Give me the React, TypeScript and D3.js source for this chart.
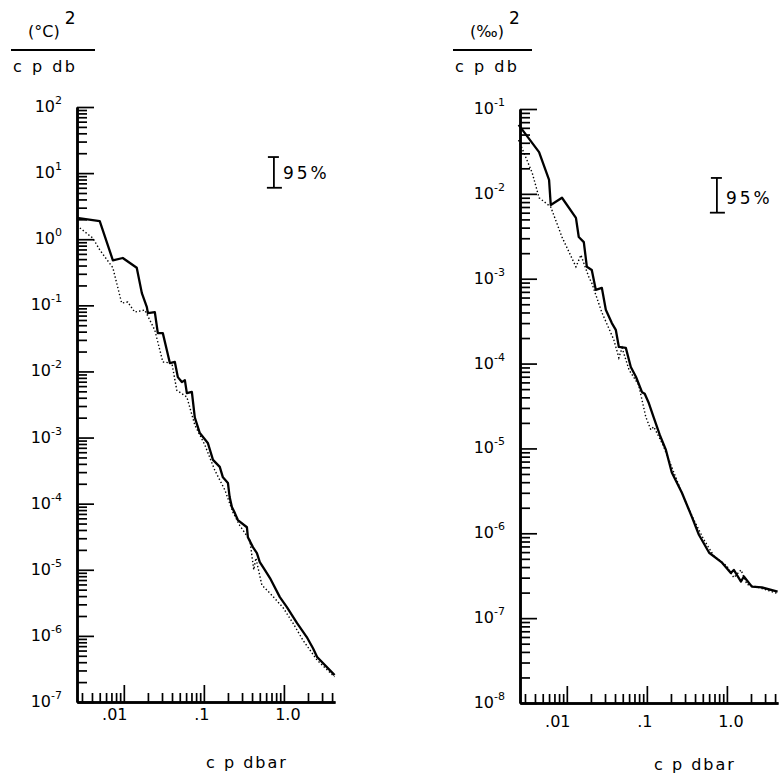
import React, { useEffect, useRef } from "react";
import * as d3 from "d3";

// vertical wavenumber spectra, [cycles per dbar, spectral density]
// temperature gradient, (°C)^2 / cpdb
const tempSolid: [number, number][] = [
  [0.0026, 2.1], [0.005, 1.88], [0.0073, 0.48], [0.0097, 0.52], [0.0145, 0.37],
  [0.0168, 0.153], [0.0194, 0.094], [0.02, 0.076], [0.0244, 0.079], [0.0266, 0.038],
  [0.0307, 0.038], [0.0345, 0.021], [0.0376, 0.0134], [0.0434, 0.0139], [0.0473, 0.0082],
  [0.0531, 0.0069], [0.0579, 0.0074], [0.0613, 0.0047], [0.0708, 0.0049], [0.0771, 0.002],
  [0.089, 0.00117], [0.112, 0.00083], [0.13, 0.00046], [0.158, 0.00036], [0.173, 0.00025],
  [0.2, 0.000205], [0.21, 0.000126], [0.224, 0.000089], [0.244, 0.000072], [0.266, 0.0000565],
  [0.345, 0.000044], [0.355, 0.000031], [0.41, 0.000022], [0.46, 0.0000179], [0.5, 0.0000131],
  [0.58, 0.0000099], [0.67, 0.0000075], [0.89, 0.00000386], [1.09, 0.00000273], [1.46, 0.00000156],
  [1.93, 0.00000096], [2.31, 0.00000065], [2.6, 0.00000048], [4.3, 0.000000255],
];
const tempDotted: [number, number][] = [
  [0.0026, 1.6], [0.0041, 1.04], [0.005, 0.69], [0.0073, 0.37], [0.0094, 0.108],
  [0.0112, 0.112], [0.0137, 0.079], [0.0183, 0.085], [0.0244, 0.042], [0.0307, 0.0139],
  [0.0398, 0.0134], [0.0459, 0.0052], [0.0613, 0.0041], [0.0771, 0.00155], [0.103, 0.00077],
  [0.137, 0.00032], [0.183, 0.000161], [0.23, 0.000075], [0.28, 0.000047], [0.376, 0.000028],
  [0.42, 0.00001], [0.447, 0.000015], [0.53, 0.0000059], [0.71, 0.0000041], [0.97, 0.0000027],
  [1.3, 0.00000156], [1.73, 0.00000086], [2.6, 0.00000043], [4.3, 0.00000024],
];
// salinity gradient, (‰)^2 / cpdb
const salSolid: [number, number][] = [
  [0.0025, 0.065], [0.0045, 0.031], [0.006, 0.0146], [0.0063, 0.0074], [0.0087, 0.009],
  [0.013, 0.0052], [0.0141, 0.0031], [0.0163, 0.0027], [0.0178, 0.00138], [0.0205, 0.00127],
  [0.023, 0.00074], [0.0274, 0.00078], [0.0307, 0.00043], [0.0365, 0.0003], [0.0409, 0.00025],
  [0.0447, 0.000157], [0.0546, 0.000153], [0.063, 0.000091], [0.073, 0.00007], [0.087, 0.000046],
  [0.094, 0.000044], [0.106, 0.000034], [0.122, 0.000023], [0.145, 0.0000144], [0.173, 0.0000096],
  [0.205, 0.0000052], [0.274, 0.000003], [0.365, 0.00000156], [0.447, 0.00000096], [0.6, 0.00000059],
  [0.87, 0.00000045], [1.12, 0.00000034], [1.22, 0.00000037], [1.5, 0.00000027], [1.63, 0.00000031],
  [2.05, 0.000000235], [2.74, 0.00000023], [4.3, 0.000000205],
];
const salDotted: [number, number][] = [
  [0.0025, 0.043], [0.0037, 0.0176], [0.0045, 0.009], [0.0063, 0.007], [0.0087, 0.0031],
  [0.013, 0.00138], [0.015, 0.0019], [0.0188, 0.00105], [0.0205, 0.00089], [0.0274, 0.0004],
  [0.0335, 0.00026], [0.0387, 0.00019], [0.0447, 0.000117], [0.049, 0.000153], [0.06, 0.000084],
  [0.079, 0.000056], [0.097, 0.0000235], [0.112, 0.0000166], [0.122, 0.000018], [0.159, 0.000011],
  [0.223, 0.0000049], [0.29, 0.0000026], [0.386, 0.00000144], [0.516, 0.00000084], [0.687, 0.00000054],
  [1.0, 0.00000041], [1.22, 0.0000003], [1.5, 0.00000037], [1.78, 0.00000025], [2.5, 0.00000023],
  [4.3, 0.000000195],
];

const xMajor = [0.01, 0.1, 1];
const xMajorLabels = [".01", ".1", "1.0"];
const tempDecades = [-7, -6, -5, -4, -3, -2, -1, 0, 1, 2];
const salDecades = [-8, -7, -6, -5, -4, -3, -2, -1];
// 95% confidence interval bars, [lower, upper] and its frequency position
const barFreq = 0.75;
const tempBar = [6.0, 17.5];
const salBar = [0.006, 0.0154];

const FONT = "'DejaVu Sans', sans-serif";

function drawPanel(svg: any, p: any) {
  const x = d3.scaleLog().domain([0.0026, 4.35]).range([p.left, p.left + 258]);
  const y = d3
    .scaleLog()
    .domain([Math.pow(10, p.decades[0]), Math.pow(10, p.decades[p.decades.length - 1])])
    .range([p.bottom, p.top]);

  const yMajor = p.decades.map((d: number) => Math.pow(10, d));
  const yMinor = p.decades.slice(0, -1).flatMap((d: number) =>
    d3.range(2, 10).map((k) => k * Math.pow(10, d))
  );
  const [x0, x1] = x.domain();
  const xMinor = [-3, -2, -1, 0]
    .flatMap((d) => d3.range(2, 10).map((k) => k * Math.pow(10, d)))
    .filter((v) => v > x0 && v < x1);

  const styleAxis = (g: any, domainW: number) => {
    g.select(".domain").attr("stroke", "#000").attr("stroke-width", domainW);
    g.selectAll(".tick line").attr("stroke", "#000").attr("stroke-width", 1.7);
  };

  // y axis, ticks pointing into the plot
  const yg = svg.append("g").attr("transform", `translate(${p.left},0)`);
  yg.call(d3.axisRight(y).tickValues(yMajor).tickSize(17).tickSizeOuter(0).tickFormat(() => ""));
  styleAxis(yg, 2.5);
  const yg2 = svg.append("g").attr("transform", `translate(${p.left},0)`);
  yg2.call(d3.axisRight(y).tickValues(yMinor).tickSize(10).tickSizeOuter(0).tickFormat(() => ""));
  styleAxis(yg2, 2.5);

  // x axis, ticks pointing up
  const xg = svg.append("g").attr("transform", `translate(0,${p.bottom})`);
  xg.call(d3.axisTop(x).tickValues(xMajor).tickSize(17).tickSizeOuter(0).tickFormat(() => ""));
  styleAxis(xg, 2.5);
  const xg2 = svg.append("g").attr("transform", `translate(0,${p.bottom})`);
  xg2.call(d3.axisTop(x).tickValues(xMinor).tickSize(9).tickSizeOuter(0).tickFormat(() => ""));
  styleAxis(xg2, 2.5);

  // y tick labels 10^n
  p.decades.forEach((d: number) => {
    const t = svg
      .append("text")
      .attr("x", p.left - 15)
      .attr("y", y(Math.pow(10, d)) + 5)
      .attr("text-anchor", "end")
      .attr("font-family", FONT)
      .attr("font-size", 16);
    t.append("tspan").text("10");
    t.append("tspan").attr("dy", -8).attr("font-size", 11).text(d < 0 ? `-${-d}` : `${d}`);
  });

  // x tick labels
  const shift = [-9, -2, 4];
  xMajor.forEach((v, i) => {
    svg
      .append("text")
      .attr("x", x(v) + shift[i])
      .attr("y", p.bottom + p.xLabelGap)
      .attr("text-anchor", "middle")
      .attr("font-family", FONT)
      .attr("font-size", 16)
      .text(xMajorLabels[i]);
  });

  svg
    .append("text")
    .attr("x", p.xTitleX)
    .attr("y", p.xTitleY)
    .attr("text-anchor", "middle")
    .attr("font-family", FONT)
    .attr("font-size", 16)
    .attr("letter-spacing", 2)
    .text("c p dbar");

  // unit label as a fraction
  const ut = svg
    .append("text")
    .attr("x", p.unitX)
    .attr("y", 37)
    .attr("font-family", FONT)
    .attr("font-size", 16);
  ut.append("tspan").text(p.unit);
  ut.append("tspan").attr("dx", 5).attr("dy", -13).attr("font-size", 17).text("2");
  svg
    .append("line")
    .attr("x1", p.fracX1)
    .attr("x2", p.fracX2)
    .attr("y1", 50)
    .attr("y2", 50)
    .attr("stroke", "#000")
    .attr("stroke-width", 2);
  svg
    .append("text")
    .attr("x", p.fracX1 + 2)
    .attr("y", 72)
    .attr("font-family", FONT)
    .attr("font-size", 16)
    .attr("letter-spacing", 2.5)
    .text("c p db");

  // spectra
  const line = d3
    .line<[number, number]>()
    .x((d) => x(d[0]))
    .y((d) => y(d[1]));
  svg
    .append("path")
    .datum(p.dotted)
    .attr("d", line)
    .attr("fill", "none")
    .attr("stroke", "#000")
    .attr("stroke-width", 1.4)
    .attr("stroke-dasharray", "1.4 2.2");
  svg
    .append("path")
    .datum(p.solid)
    .attr("d", line)
    .attr("fill", "none")
    .attr("stroke", "#000")
    .attr("stroke-width", 2.3)
    .attr("stroke-linejoin", "round");

  // 95% bar
  const bx = x(barFreq);
  const [lo, hi] = p.bar;
  const bar = svg.append("g").attr("stroke", "#000").attr("stroke-width", 1.8);
  bar.append("line").attr("x1", bx).attr("x2", bx).attr("y1", y(lo)).attr("y2", y(hi));
  bar.append("line").attr("x1", bx - 6).attr("x2", bx + 5).attr("y1", y(hi)).attr("y2", y(hi));
  bar.append("line").attr("x1", bx - 7).attr("x2", bx + 8).attr("y1", y(lo)).attr("y2", y(lo));
  svg
    .append("text")
    .attr("x", bx + 9)
    .attr("y", (y(lo) + y(hi)) / 2 + 7 + p.pctShift)
    .attr("font-family", FONT)
    .attr("font-size", 17)
    .attr("letter-spacing", 3)
    .text("95%");
}

function App() {
  const ref = useRef<HTMLDivElement>(null);

  useEffect(() => {
    const svg = d3
      .select(ref.current)
      .append("svg")
      .attr("width", 779)
      .attr("height", 775)
      .style("position", "absolute")
      .style("left", 0)
      .style("top", 0)
      .style("background", "#fff");

    drawPanel(svg, {
      left: 77, top: 107, bottom: 702, decades: tempDecades,
      solid: tempSolid, dotted: tempDotted, bar: tempBar,
      xLabelGap: 18, xTitleX: 247, xTitleY: 768,
      unit: "(°C)", unitX: 28, fracX1: 11, fracX2: 95, pctShift: 0,
    });
    drawPanel(svg, {
      left: 520, top: 109, bottom: 703, decades: salDecades,
      solid: salSolid, dotted: salDotted, bar: salBar,
      xLabelGap: 24, xTitleX: 695, xTitleY: 770,
      unit: "(‰)", unitX: 470, fracX1: 453, fracX2: 532, pctShift: 2,
    });

    return () => {
      d3.select(ref.current).selectChild().remove();
    };
  }, []);

  return <div ref={ref}></div>;
}

export default App;
